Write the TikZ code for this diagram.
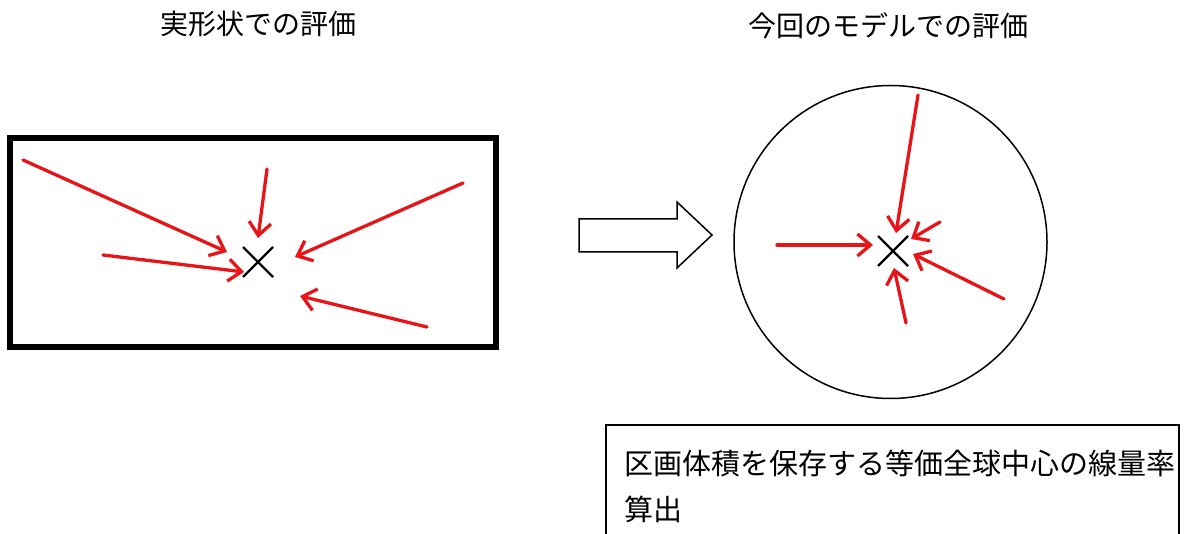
\documentclass[tikz,border=0pt]{standalone}
\usepackage{fontspec}
\newfontfamily\jp{Noto Sans CJK JP}
\usetikzlibrary{arrows.meta,calc}
\definecolor{arrred}{RGB}{232,20,24}
\tikzset{
  ray/.style={draw=arrred, line width=3.3pt, line cap=round, -{Straight Barb[length=13pt,width=22pt,line width=3.3pt]}},
  crossln/.style={draw=black, line width=2.2pt},
  title/.style={font=\jp\fontsize{28}{32}\selectfont, inner sep=0pt},
  body/.style={font=\jp\fontsize{29}{34}\selectfont, inner sep=0pt, anchor=west},
}
\begin{document}
\begin{tikzpicture}[x=1pt,y=-1pt]
\useasboundingbox (0,0) rectangle (1186,534);
\fill[white] (0,0) rectangle (1186,534);

% titles
\node[title] (t1) at (258,24) {実形状での評価};
\node[title] (t2) at (888,26) {今回のモデルでの評価};

% left: rectangle
\draw[line width=6.5pt] (10,138) rectangle (496,347);
\coordinate (cL) at (258,262);
\draw[crossln] ($(cL)+(-15,-15)$) -- ($(cL)+(15,15)$);
\draw[crossln] ($(cL)+(15,-15)$) -- ($(cL)+(-15,15)$);
\coordinate (a1s) at (23,160);  \coordinate (a1e) at (227,252);
\coordinate (a2s) at (267,169); \coordinate (a2e) at (258,238);
\coordinate (a3s) at (463,183); \coordinate (a3e) at (295,257);
\coordinate (a4s) at (103,255); \coordinate (a4e) at (244,272);
\coordinate (a5s) at (427,327); \coordinate (a5e) at (300,296);
\foreach \i in {1,...,5} \draw[ray] (a\i s) -- (a\i e);

% block arrow
\draw[line width=1.5pt, fill=white] (579,219) -- (677,219) -- (677,202) -- (712,235) -- (677,268) -- (677,252) -- (579,252) -- cycle;

% right: circle
\node[draw, circle, line width=1.5pt, minimum size=313pt, inner sep=0pt] (circ) at (890.5,242) {};
\coordinate (cR) at (893,251);
\draw[crossln] ($(cR)+(-15,-15)$) -- ($(cR)+(15,15)$);
\draw[crossln] ($(cR)+(15,-15)$) -- ($(cR)+(-15,15)$);
\coordinate (b1s) at (918,95);  \coordinate (b1e) at (896,233);
\coordinate (b2s) at (940,222); \coordinate (b2e) at (911,239);
\coordinate (b3s) at (777,245); \coordinate (b3e) at (873,245);
\coordinate (b4s) at (1004,299);\coordinate (b4e) at (913,254);
\coordinate (b5s) at (906,323); \coordinate (b5e) at (894,268);
\foreach \i in {1,...,5} \draw[ray] (b\i s) -- (b\i e);

% text box
\draw[line width=1.3pt] (606,540) -- (606,425) -- (1179,425) -- (1179,540);
\begin{scope}
\clip (607,426) rectangle (1178,534);
\node[body] (l1) at (624,463) {区画体積を保存する等価全球中心の線量率};
\node[body] (l2) at (624,509) {算出};
\end{scope}
\end{tikzpicture}
\end{document}
